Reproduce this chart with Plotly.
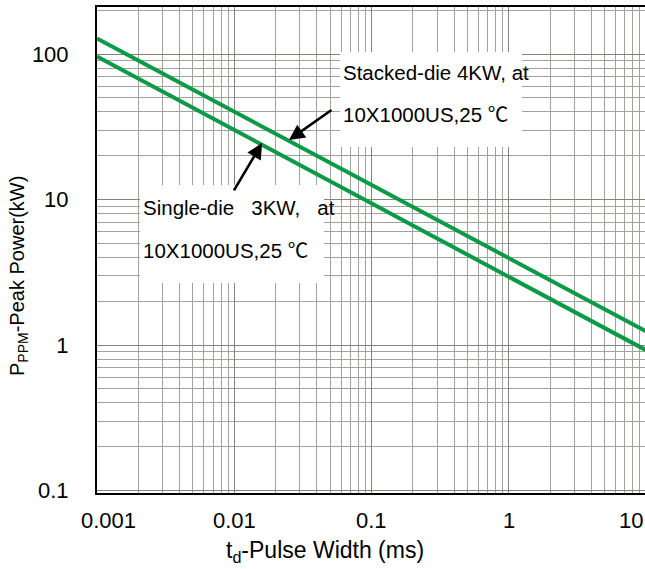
import math
import plotly.graph_objects as go

# ---------------- data ----------------
pulse_width_ms = [0.001, 0.01, 0.1, 1, 10]
single_die_kw = [96, 30, 9.4, 2.95, 0.92]
stacked_die_kw = [128, 40, 12.5, 3.95, 1.24]

x_tick_vals = [0.001, 0.01, 0.1, 1, 10]
x_tick_labels = ["0.001", "0.01", "0.1", "1", "10"]
y_tick_vals = [0.1, 1, 10, 100]
y_tick_labels = ["0.1", "1", "10", "100"]

DEG = "<span style=\"font-family:'Noto Sans CJK SC'\">℃</span>"
stacked_label = ["Stacked-die 4KW, at", "10X1000US,25 " + DEG]
single_label = ["Single-die &nbsp; 3KW, &nbsp; at", "10X1000US,25 " + DEG]

x_title = "t<sub>d</sub>-Pulse Width (ms)"
y_title = "P<sub>PPM</sub>-Peak Power(kW)"

# ---------------- styling ----------------
GREEN = "#0c9a47"
MAJOR_GRID = "#80857c"
MINOR_GRID = "#a0a39b"
FONT = "Liberation Sans, Arial, sans-serif"
X_RANGE = [-3, 0.991]
Y_RANGE = [-1.017, 2.323]

fig = go.Figure()
fig.add_trace(go.Scatter(x=pulse_width_ms, y=stacked_die_kw, mode="lines",
                         line=dict(color=GREEN, width=4), showlegend=False))
fig.add_trace(go.Scatter(x=pulse_width_ms, y=single_die_kw, mode="lines",
                         line=dict(color=GREEN, width=4), showlegend=False))

def minor_vals(lo_exp, hi_exp):
    return [m * 10 ** e for e in range(lo_exp, hi_exp + 1) for m in range(2, 10)]

fig.update_xaxes(
    type="log", range=X_RANGE,
    tickvals=x_tick_vals, ticktext=x_tick_labels, showticklabels=False,
    ticks="", showgrid=True, gridcolor=MAJOR_GRID, gridwidth=1,
    minor=dict(tickvals=minor_vals(-3, 0), showgrid=True, gridcolor=MINOR_GRID, gridwidth=1, ticks=""),
    showline=True, linecolor="black", linewidth=2, mirror=True, zeroline=False,
)
fig.update_yaxes(
    type="log", range=Y_RANGE,
    tickvals=y_tick_vals, ticktext=y_tick_labels,
    tickfont=dict(size=22, color="black", family=FONT),
    ticks="", ticklabelstandoff=22,
    showgrid=True, gridcolor=MAJOR_GRID, gridwidth=1,
    minor=dict(tickvals=minor_vals(-1, 2), showgrid=True, gridcolor=MINOR_GRID, gridwidth=1, ticks=""),
    showline=True, linecolor="black", linewidth=2, mirror=False, zeroline=False,
)

ann = []
# x tick labels (edge labels nudged inwards as in the reference)
x_label_shift = {"0.001": 11, "10": -15}
for v, t in zip(x_tick_vals, x_tick_labels):
    px = (math.log10(v) - X_RANGE[0]) / (X_RANGE[1] - X_RANGE[0])
    ann.append(dict(x=px, y=0, xref="paper", yref="paper", text=t, showarrow=False,
                    xanchor="center", yanchor="middle", yshift=-27, xshift=x_label_shift.get(t, 0),
                    font=dict(size=22, color="black", family=FONT)))

# axis titles
ann.append(dict(x=0.416, y=0, xref="paper", yref="paper", text=x_title, showarrow=False,
                xanchor="center", yanchor="middle", yshift=-58,
                font=dict(size=23, color="black", family=FONT)))
ann.append(dict(x=0, y=0.4465, xref="paper", yref="paper", text=y_title, showarrow=False,
                textangle=-90, xanchor="center", yanchor="middle", xshift=-79,
                font=dict(size=20, color="black", family=FONT)))

# label boxes: white background rectangles (paper fractions) and two text lines each
boxes = [
    # (x0, x1, y0, y1) paper, text-left (log x), line1 y, line2 y (log y), text
    ((0.4434, 0.7755, 0.7119, 0.9074), -1.23, 1.876, 1.594, stacked_label),
    ((0.0785, 0.4142, 0.4321, 0.6337), -2.687, 0.948, 0.660, single_label),
]
shapes = []
for (x0, x1, y0, y1), bx, l1, l2, lines in boxes:
    shapes.append(dict(type="rect", xref="paper", yref="paper", x0=x0, x1=x1, y0=y0, y1=y1,
                       fillcolor="white", line=dict(width=0), layer="above"))
    for ly, txt in zip((l1, l2), lines):
        ann.append(dict(x=bx, y=ly, xref="x", yref="y", text=txt, showarrow=False,
                        xanchor="left", yanchor="middle", xshift=1, align="left",
                        font=dict(size=20.5, color="black", family=FONT)))

# arrows: head on curve, tail near label
arrows = [
    (-1.602, 1.409, -1.281, 1.622),  # stacked
    (-1.798, 1.388, -2.009, 1.052),  # single
]
for hx, hy, tx, ty in arrows:
    ann.append(dict(x=hx, y=hy, ax=tx, ay=ty, xref="x", yref="y", axref="x", ayref="y",
                    text="", showarrow=True, arrowhead=2, arrowsize=1.2, arrowwidth=2.6,
                    arrowcolor="black"))

fig.update_layout(
    width=645, height=569,
    margin=dict(l=97, r=0, t=7, b=76),
    paper_bgcolor="white", plot_bgcolor="white",
    font=dict(family=FONT, color="black"),
    annotations=ann, shapes=shapes, showlegend=False,
)

# remove the browser's default body margin so the 645x569 figure fills the window exactly
fig.write_html("out.html", config={"displayModeBar": False},
               post_script="document.body.style.margin='0';document.body.style.overflow='hidden';")
